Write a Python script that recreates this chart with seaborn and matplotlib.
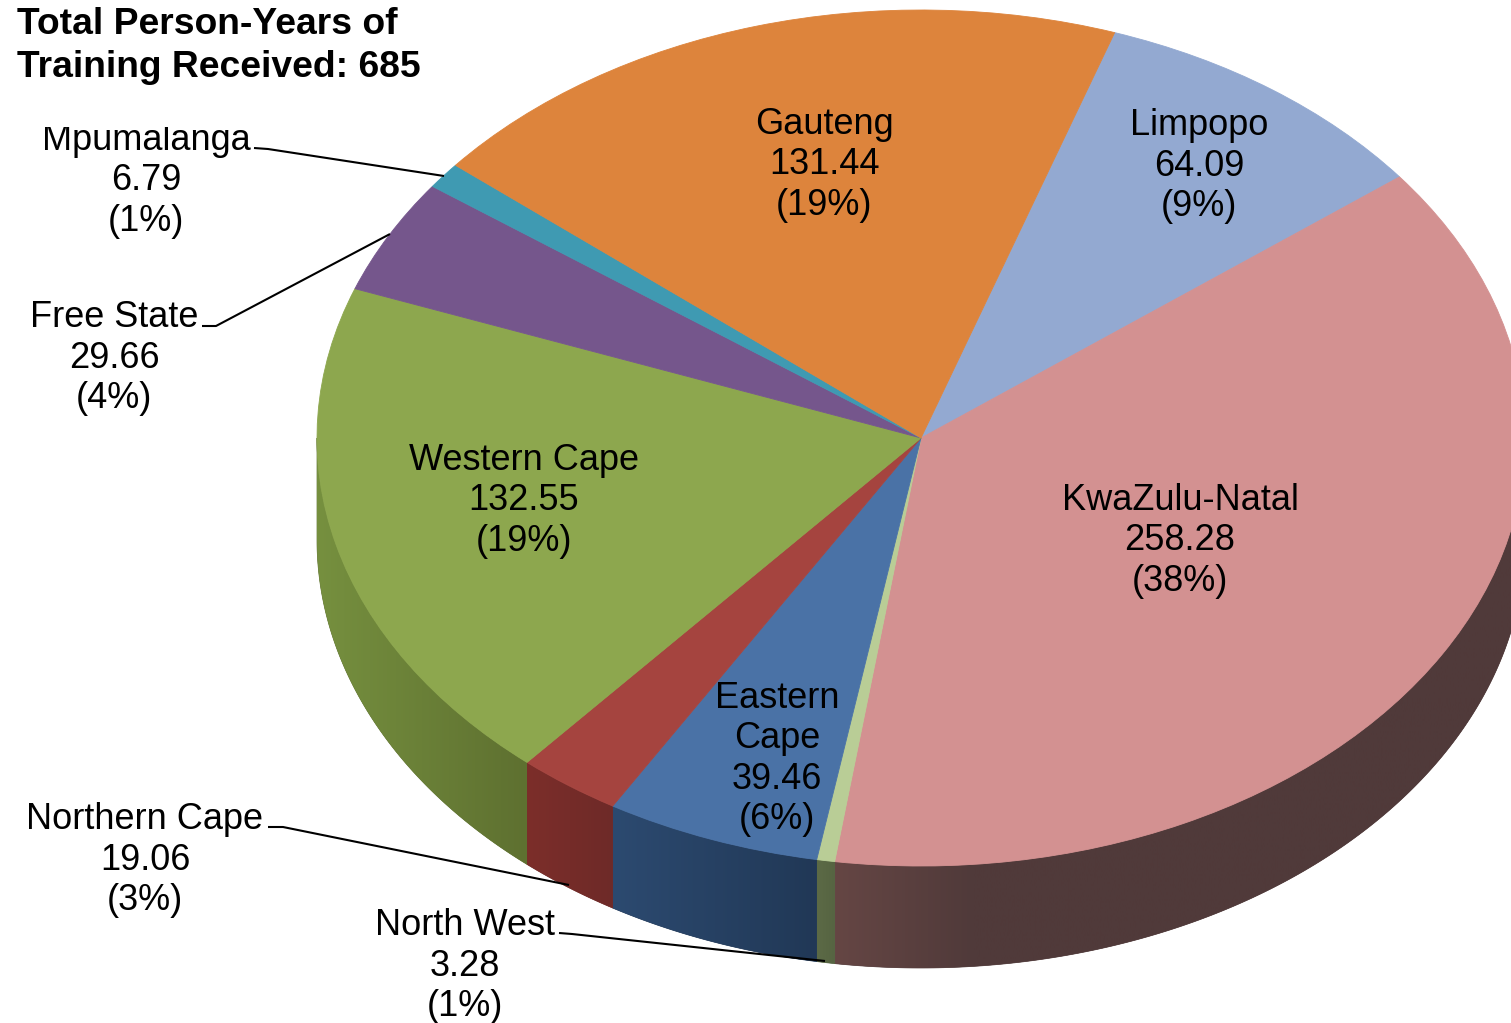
import numpy as np
import matplotlib
matplotlib.use('Agg')
import matplotlib.pyplot as plt
from matplotlib.patches import Polygon, Rectangle
from matplotlib.colors import LinearSegmentedColormap
import seaborn as sns

# slices, clockwise starting from Limpopo
provinces = ['Limpopo', 'KwaZulu-Natal', 'North West', 'Eastern\nCape', 'Northern Cape',
             'Western Cape', 'Free State', 'Mpumalanga', 'Gauteng']
person_years = [64.09, 258.28, 3.28, 39.46, 19.06, 132.55, 29.66, 6.79, 131.44]
percents = [9, 38, 1, 6, 3, 19, 4, 1, 19]
top_colors = ['#93A9D1', '#D39191', '#B9CD96', '#4A72A6', '#A5443F',
              '#8DA74E', '#75568C', '#3F9AB2', '#DD843C']
wall_left = ['#5E6C86', '#654644', '#5C6A46', '#2C4A70', '#7C2E2A',
             '#76903F', '#4C3A5C', '#28606E', '#8C5426']
wall_right = ['#56627A', '#503A3A', '#566442', '#213856', '#6E2A28',
              '#5E7030', '#4C3A5C', '#28606E', '#8C5426']
wall_fade = [1, 0.2, 1, 1, 1, 1, 1, 1, 1]  # share of the slice width the shading takes
label_pos = [(1199, 166), (1180, 541), (465, 966), (777, 759), (145, 860),
             (524, 501), (114, 358), (146, 181), (824, 165)]
leaders = {'Mpumalanga': [(254, 148), (268, 149), (444, 176)],
           'Free State': [(202, 326), (216, 326), (390, 234)],
           'Northern Cape': [(268, 827), (283, 827), (569, 885)],
           'North West': [(559, 933), (572, 934), (825, 961)]}
title = 'Total Person-Years of\nTraining Received: 685'

W, H = 1511, 1023
cx, cy = 921, 438      # pie centre in pixels
rx, ry = 604, 428      # ellipse radii
depth = 102 / ry
start = 71.3           # math angle of the first slice edge

sns.set_style('white')
plt.rcParams['font.family'] = ['Liberation Sans', 'DejaVu Sans']

fig = plt.figure(figsize=(W / 100, H / 100), dpi=100)
ax = fig.add_axes([0, 0, 1, 1])

# top face: a normal pie, then squash it by dropping the equal aspect
wedges, _ = ax.pie(person_years, colors=top_colors, startangle=start, counterclock=False,
                   wedgeprops={'linewidth': 0.6, 'zorder': 3})
for w, c in zip(wedges, top_colors):
    w.set_edgecolor(c)

# side wall of the front half, a gradient image clipped to each slice
# (clockwise wedges run into negative angles, the front is -180..0)
for w, left, right, fade in zip(wedges, wall_left, wall_right, wall_fade):
    a0, a1 = max(w.theta1, -180), min(w.theta2, 0)
    if a0 >= a1:
        continue
    t = np.radians(np.linspace(a0, a1, 200))
    xs, ys = np.cos(t), np.sin(t)
    outline = np.vstack([np.column_stack([xs, ys]),
                         np.column_stack([xs[::-1], ys[::-1] - depth])])
    poly = Polygon(outline, closed=True, facecolor=right, edgecolor=right,
                   linewidth=0.5, zorder=2)
    ax.add_patch(poly)
    cmap = LinearSegmentedColormap.from_list('wall', [(0, left), (fade, right), (1, right)])
    img = ax.imshow(np.linspace(0, 1, 256)[None, :], cmap=cmap, aspect='auto', zorder=2.1,
                    extent=[xs.min(), xs.max(), ys.min() - depth, ys.max()])
    img.set_clip_path(poly)

ax.set_aspect('auto')
ax.set_xlim(-cx / rx, (W - cx) / rx)
ax.set_ylim((cy - H) / ry, cy / ry)
ax.axis('off')

# labels and leader lines use a pixel overlay
ov = fig.add_axes([0, 0, 1, 1])
ov.set_xlim(0, W)
ov.set_ylim(H, 0)
ov.axis('off')
ov.patch.set_alpha(0)

for name, val, pct, (x, y) in zip(provinces, person_years, percents, label_pos):
    ov.text(x, y, f'{name}\n{val:.2f}\n({pct}%)', ha='center', va='center',
            fontsize=26, color='black', linespacing=1.2, zorder=5)
for pts in leaders.values():
    ov.plot(*zip(*pts), color='black', lw=1.5, zorder=6, solid_capstyle='butt')

# the title box clips the top of the Mpumalanga label, as in the source
ov.add_patch(Rectangle((0, 0), 430, 127, facecolor='white', edgecolor='none', zorder=7))
ov.text(17, 46, title, ha='left', va='center', fontsize=26.8, fontweight='bold',
        color='black', linespacing=1.31, zorder=8)

fig.savefig('out.png', dpi=100)
